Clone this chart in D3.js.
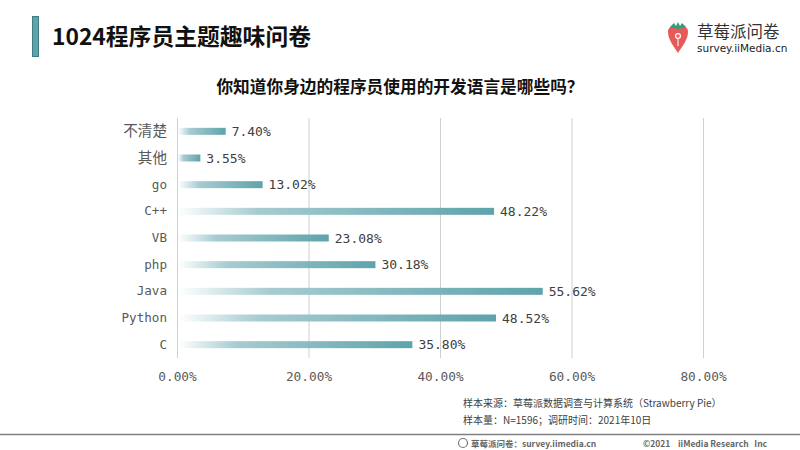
<!DOCTYPE html>
<html>
<head>
<meta charset="utf-8">
<script src="https://cdn.jsdelivr.net/npm/d3@7"></script>
<style>
  body { margin: 0; background: #fff; }
  svg { display: block; }
</style>
</head>
<body>
<div id="chart"></div>
<script>
// ====================
// Data
// ====================
const categories = ["不清楚", "其他", "go", "C++", "VB", "php", "Java", "Python", "C"];
const values     = [7.40, 3.55, 13.02, 48.22, 23.08, 30.18, 55.62, 48.52, 35.80];
const xTicks     = [0, 20, 40, 60, 80];

const width = 800, height = 450;
const mono = "'DejaVu Sans Mono', 'Noto Sans CJK SC', monospace";
const cjk = "'Noto Sans CJK SC', 'DejaVu Sans', sans-serif";

const svg = d3.select("#chart").append("svg")
    .attr("width", width).attr("height", height);

// gradient for bars
const defs = svg.append("defs");
const grad = defs.append("linearGradient").attr("id", "barGrad")
    .attr("x1", "0%").attr("x2", "100%").attr("y1", "0%").attr("y2", "0%");
grad.append("stop").attr("offset", "0%").attr("stop-color", "#ffffff");
grad.append("stop").attr("offset", "25%").attr("stop-color", "#a6ccd1");
grad.append("stop").attr("offset", "100%").attr("stop-color", "#5ea3ab");

// ====================
// Header
// ====================
svg.append("rect")
    .attr("x", 32.5).attr("y", 16.5).attr("width", 6).attr("height", 40)
    .attr("fill", "#5fa3ab").attr("stroke", "#3f7d86").attr("stroke-width", 1);

svg.append("text")
    .attr("x", 52).attr("y", 45)
    .attr("font-family", cjk).attr("font-weight", "bold").attr("font-size", 22.8)
    .attr("fill", "#111")
    .text("1024程序员主题趣味问卷");

// logo
const logo = svg.append("g").attr("transform", "translate(666,22)");
logo.append("path")
    .attr("d", "M2,10 C2,4 8,3 12,6 C16,3 22,4 22,10 C22,18 15,26 12,31 C9,26 2,18 2,10 Z")
    .attr("fill", "#e85a5a");
logo.append("path")
    .attr("d", "M4,5 L8,1 L10,4 L12,0 L14,4 L16,1 L20,5 L12,7 Z")
    .attr("fill", "#2fa07e");
logo.append("circle").attr("cx", 12).attr("cy", 14).attr("r", 2.4)
    .attr("fill", "none").attr("stroke", "#fff").attr("stroke-width", 1.2);
logo.append("line").attr("x1", 12).attr("x2", 12).attr("y1", 17).attr("y2", 24)
    .attr("stroke", "#fff").attr("stroke-width", 1);
svg.append("text")
    .attr("x", 697).attr("y", 38)
    .attr("font-family", cjk).attr("font-size", 16.5)
    .attr("fill", "#333").attr("letter-spacing", 0)
    .text("草莓派问卷");
svg.append("text")
    .attr("x", 697).attr("y", 52)
    .attr("font-family", "'DejaVu Sans', sans-serif").attr("font-size", 10.5)
    .attr("fill", "#222")
    .text("survey.iiMedia.cn");

// chart title
svg.append("text")
    .attr("x", 400).attr("y", 93).attr("text-anchor", "middle")
    .attr("font-family", cjk).attr("font-weight", "bold").attr("font-size", 16.7)
    .attr("fill", "#111")
    .text("你知道你身边的程序员使用的开发语言是哪些吗？");

// ====================
// Scales
// ====================
const x = d3.scaleLinear().domain([0, 80]).range([177, 703]);
const y = d3.scaleBand().domain(categories).range([118, 358]);

// gridlines
svg.append("g").selectAll("line")
    .data(xTicks)
    .join("line")
    .attr("x1", d => x(d) + 0.5).attr("x2", d => x(d) + 0.5)
    .attr("y1", 118).attr("y2", 358)
    .attr("stroke", "#d0d0d0").attr("stroke-width", 1);

// x axis labels
const xAxis = svg.append("g")
    .attr("transform", "translate(0,358)")
    .call(d3.axisBottom(x).tickValues(xTicks).tickSize(0).tickPadding(14)
        .tickFormat(d => d3.format(".2f")(d) + "%"));
xAxis.select(".domain").remove();
xAxis.selectAll("text")
    .attr("font-family", mono).attr("font-size", 12.8).attr("fill", "#595959");

// y axis labels
const yAxis = svg.append("g")
    .attr("transform", "translate(167,0)")
    .call(d3.axisLeft(y).tickSize(0).tickPadding(0));
yAxis.select(".domain").remove();
yAxis.selectAll("text")
    .attr("font-family", mono)
    .attr("font-size", d => /[\u4e00-\u9fff]/.test(d) ? 14.6 : 12.6)
    .attr("fill", "#595959");

// bars
const rows = categories.map((c, i) => ({ cat: c, val: values[i] }));
const barH = 7;
svg.append("g").selectAll("rect")
    .data(rows)
    .join("rect")
    .attr("x", x(0) + 1)
    .attr("y", d => y(d.cat) + y.bandwidth() / 2 - barH / 2)
    .attr("width", d => x(d.val) - x(0) - 1)
    .attr("height", barH)
    .attr("fill", "url(#barGrad)");

// value labels
svg.append("g").selectAll("text")
    .data(rows)
    .join("text")
    .attr("x", d => x(d.val) + 6)
    .attr("y", d => y(d.cat) + y.bandwidth() / 2)
    .attr("dy", "0.36em")
    .attr("font-family", mono).attr("font-size", 13).attr("fill", "#404040")
    .text(d => d3.format(".2f")(d.val) + "%");

// ====================
// Footer
// ====================
svg.append("text")
    .attr("x", 463).attr("y", 407)
    .attr("font-family", cjk).attr("font-size", 10).attr("fill", "#404040")
    .text("样本来源：草莓派数据调查与计算系统（Strawberry Pie）");
svg.append("text")
    .attr("x", 463).attr("y", 424)
    .attr("font-family", cjk).attr("font-size", 10).attr("fill", "#404040")
    .text("样本量：N=1596；调研时间：2021年10日");

svg.append("line")
    .attr("x1", 0).attr("x2", 800).attr("y1", 434.5).attr("y2", 434.5)
    .attr("stroke", "#808080").attr("stroke-width", 1.5);

svg.append("circle").attr("cx", 463).attr("cy", 443).attr("r", 4.5)
    .attr("fill", "none").attr("stroke", "#777").attr("stroke-width", 1.2);
svg.append("text")
    .attr("x", 471).attr("y", 447)
    .attr("font-family", cjk).attr("font-size", 8.5).attr("font-weight", "bold")
    .attr("fill", "#666")
    .text("草莓派问卷：survey.iimedia.cn");
svg.append("text")
    .attr("x", 643).attr("y", 447)
    .attr("font-family", cjk).attr("font-size", 8.5).attr("font-weight", "bold")
    .attr("fill", "#666").style("white-space", "pre")
    .text("©2021    iiMedia Research   Inc");
</script>
</body>
</html>
